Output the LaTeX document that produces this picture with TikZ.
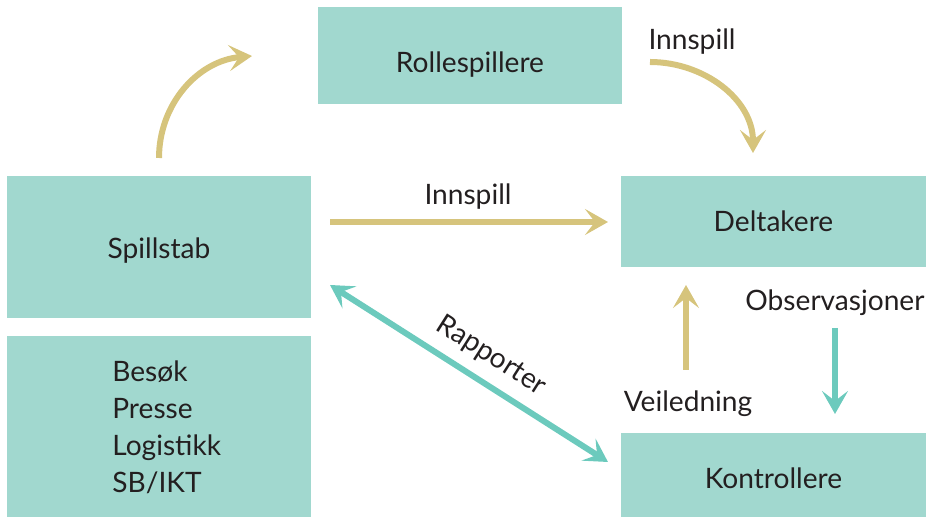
\documentclass[tikz,border=0pt]{standalone}
\usepackage{fontspec}
\setmainfont{Lato}
\usepackage{tikz}
\usetikzlibrary{arrows.meta}
\definecolor{boxfill}{HTML}{A1D8CF}
\definecolor{gold}{HTML}{D6C47C}
\definecolor{sea}{HTML}{6CCABD}
\definecolor{ink}{HTML}{231F20}
\tikzstyle{bx}=[shape=rectangle,fill=boxfill,inner sep=0pt,text=ink,font=\fontsize{16}{21}\selectfont]
\tikzstyle{lbl}=[text=ink,inner sep=0pt,font=\fontsize{16}{21}\selectfont]
\tikzstyle{tip}=[-{Stealth[length=0.46cm,width=0.52cm,inset=0.2cm]},line width=0.12cm]
\tikzstyle{both}=[{Stealth[length=0.46cm,width=0.52cm,inset=0.2cm]}-{Stealth[length=0.46cm,width=0.52cm,inset=0.2cm]},line width=0.12cm]

\begin{document}
\begin{tikzpicture}
        \useasboundingbox (0,0) rectangle (18.52,10.34);
        % boxes
        \node[bx, minimum width=6.08cm, minimum height=1.94cm,
            label={[lbl, yshift=-0.18cm]center:Rollespillere}] (R) at (9.40, 9.23) {};
        \node[bx, minimum width=6.08cm, minimum height=2.84cm,
            label={[lbl, yshift=-0.07cm]center:Spillstab}] (S) at (3.18, 5.40) {};
        \node[bx, minimum width=6.08cm, minimum height=3.62cm] (L) at (3.18, 1.81) {};
        \node[lbl, anchor=west, align=left] (Lt) at (2.24, 1.80) {Besøk\\Presse\\Logistikk\\SB/IKT};
        \node[bx, minimum width=6.10cm, minimum height=1.82cm] (D) at (15.47, 5.91) {Deltakere};
        \node[bx, minimum width=6.10cm, minimum height=1.68cm,
            label={[lbl, yshift=-0.06cm]center:Kontrollere}] (K) at (15.47, 0.84) {};
        % arrow ends
        \coordinate (s1) at (3.18, 7.18);
        \coordinate (r1) at (5.04, 9.22);
        \coordinate (r2) at (13.00, 9.10);
        \coordinate (d2) at (15.06, 7.28);
        \coordinate (s3) at (6.60, 5.90);
        \coordinate (d3) at (12.16, 5.90);
        \coordinate (s4) at (6.60, 4.64);
        \coordinate (k4) at (12.16, 1.10);
        \coordinate (k5) at (13.72, 2.94);
        \coordinate (d5) at (13.72, 4.64);
        \coordinate (d6) at (16.70, 3.78);
        \coordinate (k6) at (16.70, 2.06);
        % connectors
        \draw[tip, gold] (s1) to[out=90, in=185] (r1);
        \draw[tip, gold] (r2) to[out=0, in=90] (d2);
        \draw[tip, gold] (s3) -- (d3);
        \draw[both, sea] (s4) -- (k4);
        \draw[tip, gold] (k5) -- (d5);
        \draw[tip, sea] (d6) -- (k6);
        % labels
        \node[lbl] (i1) at (13.84, 9.50) {Innspill};
        \node[lbl] (i2) at (9.36, 6.40) {Innspill};
        \node[lbl, rotate=-32.5] (rp) at (9.82, 3.22) {Rapporter};
        \node[lbl] (ob) at (16.70, 4.28) {Observasjoner};
        \node[lbl] (vl) at (13.76, 2.26) {Veiledning};
\end{tikzpicture}
\end{document}
